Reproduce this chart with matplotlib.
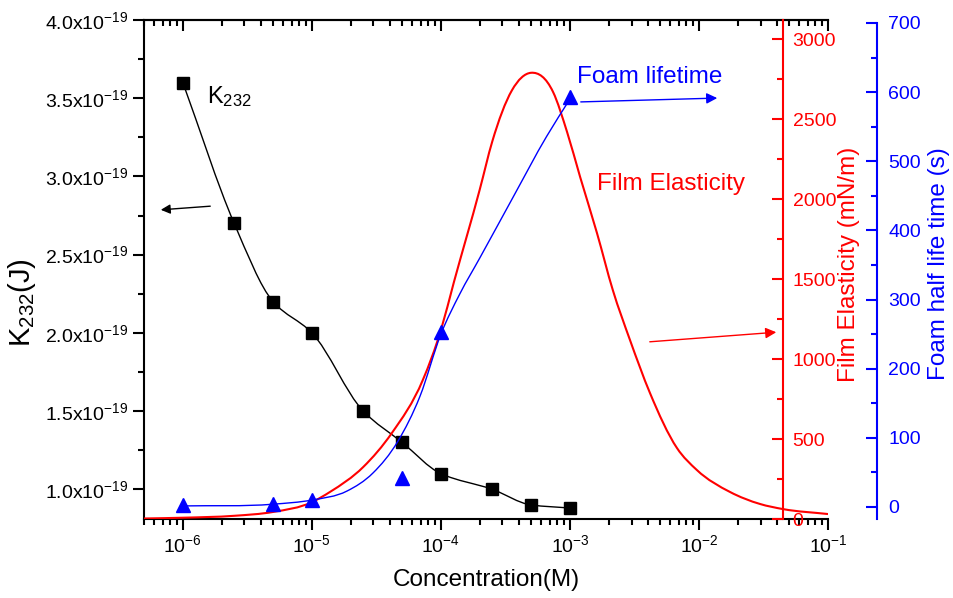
import numpy as np
import matplotlib
matplotlib.use('Agg')
import matplotlib.pyplot as plt
from matplotlib.path import Path
from matplotlib.patches import PathPatch
from matplotlib.ticker import MultipleLocator, FuncFormatter, LogLocator, NullFormatter

plt.rcParams['font.family'] = ['Liberation Sans', 'DejaVu Sans']
plt.rcParams['mathtext.fontset'] = 'custom'
plt.rcParams['mathtext.rm'] = 'Liberation Sans'
plt.rcParams['mathtext.it'] = 'Liberation Sans:italic'
plt.rcParams['mathtext.default'] = 'regular'

# K232 (J) - black squares
conc_k = [1e-6, 2.5e-6, 5e-6, 1e-5, 2.5e-5, 5e-5, 1e-4, 2.5e-4, 5e-4, 1e-3]
k232 = [3.6e-19, 2.7e-19, 2.2e-19, 2.0e-19, 1.5e-19, 1.3e-19, 1.1e-19, 1.0e-19, 0.9e-19, 0.88e-19]

# foam half life time (s) - blue triangles
conc_foam = [1e-6, 5e-6, 1e-5, 5e-5, 1e-4, 1e-3]
foam = [3, 4, 10, 42, 253, 593]

# blue fit line
conc_foam_fit = [1e-6, 5e-6, 1e-5, 1.87e-5, 2.97e-5, 4.64e-5, 6.88e-5, 1e-4, 1.4e-4, 2.0e-4, 3.6e-4, 6.6e-4, 1e-3]
foam_fit = [1.5, 4, 10, 23, 49, 95, 160, 250, 308, 360, 447, 536, 590]

# film elasticity (mN/m) - red curve
conc_el = [5e-7, 1e-6, 2.5e-6, 5e-6, 1e-5, 1.38e-5, 2.5e-5, 4.17e-5, 7.24e-5, 1e-4, 1.26e-4,
           2.0e-4, 2.5e-4, 3.55e-4, 5.0e-4, 7.4e-4, 9.5e-4, 1.2e-3, 1.62e-3, 2.15e-3,
           2.92e-3, 4.17e-3, 6.75e-3, 9.64e-3, 1.74e-2, 2.97e-2, 4.48e-2, 1e-1]
elast = [3, 8, 20, 44, 105, 169, 325, 538, 869, 1181, 1480,
         2060, 2360, 2680, 2790, 2670, 2420, 2138, 1788, 1431,
         1119, 788, 444, 306, 169, 94, 62, 31]


def smooth_path(x, y, monotone=False):
    # cubic bezier through the points, in log-x space
    lx = np.log10(x)
    y = np.asarray(y, float)
    h = np.diff(lx)
    d = np.diff(y) / h
    m = np.zeros_like(y)
    m[0], m[-1] = d[0], d[-1]
    for i in range(1, len(y) - 1):
        if monotone:
            if d[i - 1] * d[i] > 0:
                w1 = 2 * h[i] + h[i - 1]
                w2 = h[i] + 2 * h[i - 1]
                m[i] = (w1 + w2) / (w1 / d[i - 1] + w2 / d[i])
        else:
            m[i] = (d[i - 1] * h[i] + d[i] * h[i - 1]) / (h[i] + h[i - 1])
    verts = [(x[0], y[0])]
    codes = [Path.MOVETO]
    for i in range(len(lx) - 1):
        verts.append((10 ** (lx[i] + h[i] / 3), y[i] + m[i] * h[i] / 3))
        verts.append((10 ** (lx[i + 1] - h[i] / 3), y[i + 1] - m[i + 1] * h[i] / 3))
        verts.append((x[i + 1], y[i + 1]))
        codes += [Path.CURVE4] * 3
    return Path(verts, codes)


fig = plt.figure(figsize=(9.54, 5.98), dpi=100)
ax = fig.add_axes([144 / 954, 1 - 519 / 598, 684 / 954, 499 / 598])

ax.set_xscale('log')
ax.set_xlim(5e-7, 1e-1)
ax.set_ylim(0.81e-19, 4.0e-19)

ax.add_patch(PathPatch(smooth_path(conc_k, k232, monotone=True), facecolor='none', edgecolor='black', lw=1))
ax.plot(conc_k, k232, 's', color='black', ms=8, zorder=5)

ax.spines['right'].set_visible(False)
for s in ['left', 'top', 'bottom']:
    ax.spines[s].set_linewidth(1.5)

ax.yaxis.set_major_locator(MultipleLocator(0.5e-19))
ax.yaxis.set_minor_locator(MultipleLocator(0.25e-19))
ax.yaxis.set_major_formatter(FuncFormatter(lambda v, p: '%.1fx10$^{-19}$' % (v / 1e-19)))
ax.xaxis.set_major_locator(LogLocator(base=10, numticks=20))
ax.xaxis.set_minor_locator(LogLocator(base=10, subs=np.arange(2, 10), numticks=20))
ax.xaxis.set_minor_formatter(NullFormatter())
ax.tick_params(axis='both', which='both', direction='out', labelsize=14, width=1.5, right=False)
ax.tick_params(axis='both', which='major', length=8, pad=3)
ax.tick_params(axis='both', which='minor', length=4.5)

top = ax.secondary_xaxis('top')
top.xaxis.set_major_locator(LogLocator(base=10, numticks=20))
top.xaxis.set_minor_locator(LogLocator(base=10, subs=np.arange(2, 10), numticks=20))
top.tick_params(which='both', direction='in', labeltop=False, width=1.5)
top.tick_params(which='major', length=8)
top.tick_params(which='minor', length=4.5)
top.spines['top'].set_linewidth(1.5)

ax.set_xlabel('Concentration(M)', fontsize=17.5, labelpad=9)
ax.set_ylabel('K$_{232}$(J)', fontsize=21)
ax.yaxis.set_label_coords(-0.155, 0.433)

ax.text(0.092, 0.834, 'K$_{232}$', transform=ax.transAxes, fontsize=17, va='baseline')
ax.annotate('', xy=(0.0205, 0.6192), xytext=(0.1009, 0.6273), xycoords='axes fraction',
            arrowprops=dict(arrowstyle='-|>', color='black', lw=1, mutation_scale=14))

# red axis
ax2 = ax.twinx()
ax2.set_ylim(0, 3120)
ax2.add_patch(PathPatch(smooth_path(conc_el, elast), facecolor='none', edgecolor='red', lw=1.5))
for s in ['left', 'top', 'bottom']:
    ax2.spines[s].set_visible(False)
ax2.spines['right'].set_position(('axes', 0.934))
ax2.spines['right'].set_color('red')
ax2.spines['right'].set_linewidth(1.5)
ax2.yaxis.set_major_locator(MultipleLocator(500))
ax2.yaxis.set_minor_locator(MultipleLocator(250))
ax2.tick_params(axis='y', which='both', direction='in', colors='red', labelsize=14, width=1.5, pad=7)
ax2.tick_params(axis='y', which='major', length=8)
ax2.tick_params(axis='y', which='minor', length=4.5)
ax2.set_ylabel('Film Elasticity (mN/m)', color='red', fontsize=17.5)
ax2.yaxis.set_label_coords(1.014, 0.511)

ax2.text(0.662, 0.659, 'Film Elasticity', transform=ax2.transAxes, color='red', fontsize=17.5, va='baseline')
ax2.annotate('', xy=(0.9284, 0.3747), xytext=(0.7354, 0.3547), xycoords='axes fraction',
             arrowprops=dict(arrowstyle='-|>', color='red', lw=1, mutation_scale=16))

# blue axis
ax3 = ax.twinx()
ax3.set_ylim(-17.4, 704.3)
ax3.add_patch(PathPatch(smooth_path(conc_foam_fit, foam_fit), facecolor='none', edgecolor='blue', lw=1))
ax3.plot(conc_foam, foam, '^', color='blue', ms=10, zorder=5)
for s in ['left', 'top', 'bottom']:
    ax3.spines[s].set_visible(False)
ax3.spines['right'].set_position(('axes', 1.0716))
ax3.spines['right'].set_color('blue')
ax3.spines['right'].set_linewidth(1.5)
ax3.spines['right'].set_bounds(-18, 700)
ax3.yaxis.set_major_locator(MultipleLocator(100))
ax3.yaxis.set_minor_locator(MultipleLocator(50))
ax3.tick_params(axis='y', which='both', direction='in', colors='blue', labelsize=14, width=1.5, pad=8)
ax3.tick_params(axis='y', which='major', length=8)
ax3.tick_params(axis='y', which='minor', length=4.5)
ax3.set_ylabel('Foam half life time (s)', color='blue', fontsize=17.5)
ax3.yaxis.set_label_coords(1.146, 0.511)

ax3.text(0.633, 0.874, 'Foam lifetime', transform=ax3.transAxes, color='blue', fontsize=17.5, va='baseline')
ax3.annotate('', xy=(0.8421, 0.8437), xytext=(0.6345, 0.8357), xycoords='axes fraction',
             arrowprops=dict(arrowstyle='-|>', color='blue', lw=1, mutation_scale=16))

fig.savefig('out.png', dpi=100)
